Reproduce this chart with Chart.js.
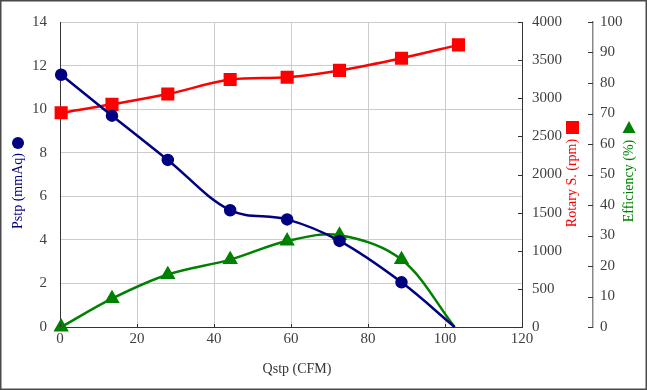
<!DOCTYPE html>
<html>
<head>
<meta charset="utf-8">
<script src="https://cdn.jsdelivr.net/npm/chart.js@4"></script>
<style>
  html, body { margin: 0; padding: 0; background: #fff; }
  canvas { display: block; }
</style>
</head>
<body>
<canvas id="c" width="647" height="390"></canvas>
<script>
// values
const qstp = [0.3, 13.5, 28, 44.2, 59, 72.6, 88.7, 102.5];
const pstp = [11.58, 9.7, 7.67, 5.36, 4.94, 3.95, 2.05, 0];
const rpmQ = [0.3, 13.5, 28, 44.2, 59, 72.6, 88.7, 103.5];
const rpm = [2810, 2920, 3055, 3245, 3275, 3365, 3525, 3700];
const eff = [0, 9.3, 17.2, 22.1, 28.2, 30.1, 22.1, 0];

const xTicks = [0, 20, 40, 60, 80, 100, 120];
const pTicks = [0, 2, 4, 6, 8, 10, 12, 14];
const rpmTicks = [0, 500, 1000, 1500, 2000, 2500, 3000, 3500, 4000];
const effTicks = [0, 10, 20, 30, 40, 50, 60, 70, 80, 90, 100];

const NAVY = '#000080', RED = '#ff0000', GREEN = '#008000';
const TXT = '#404040';
const serif = '"Liberation Serif", "Times New Roman", serif';

const pts = (xs, ys) => xs.map((x, i) => ({ x, y: ys[i] }));
const lastHidden = (n, r) => Array.from({ length: n }, (_, i) => i === n - 1 ? 0 : r);
const plain = v => String(v);

function fixTicks(list) {
  return s => { s.ticks = list.map(v => ({ value: v })); };
}

const decor = {
  id: 'decor',
  afterDraw(chart) {
    const ctx = chart.ctx;
    const { x, y, yR, yE } = chart.scales;
    ctx.save();

    // small inner tick marks
    ctx.strokeStyle = '#333';
    ctx.lineWidth = 1;
    ctx.beginPath();
    xTicks.forEach(v => {
      const px = Math.round(x.getPixelForValue(v)) + 0.5;
      ctx.moveTo(px, y.bottom); ctx.lineTo(px, y.bottom - 3);
    });
    rpmTicks.forEach(v => {
      const py = Math.round(yR.getPixelForValue(v)) + 0.5;
      ctx.moveTo(yR.left, py); ctx.lineTo(yR.left - 4, py);
    });
    effTicks.forEach(v => {
      const py = Math.round(yE.getPixelForValue(v)) + 0.5;
      ctx.moveTo(yE.left, py); ctx.lineTo(yE.left - 5, py);
    });
    ctx.stroke();

    // axis titles
    ctx.font = '14px ' + serif;
    ctx.textBaseline = 'middle';
    ctx.textAlign = 'center';
    ctx.fillStyle = '#333';
    ctx.fillText('Qstp (CFM)', 297, 369);

    const vTitle = (text, cx, cy, color) => {
      ctx.save();
      ctx.translate(cx, cy);
      ctx.rotate(-Math.PI / 2);
      ctx.fillStyle = color;
      ctx.fillText(text, 0, 0);
      ctx.restore();
    };
    vTitle('Pstp (mmAq)', 18, 191, NAVY);
    vTitle('Rotary S. (rpm)', 572, 183, RED);
    vTitle('Efficiency (%)', 629, 181, GREEN);

    // legend glyphs at the top of each title
    ctx.fillStyle = NAVY;
    ctx.beginPath(); ctx.arc(18, 143, 6, 0, Math.PI * 2); ctx.fill();
    ctx.fillStyle = RED;
    ctx.fillRect(566, 121, 13, 13);
    ctx.fillStyle = GREEN;
    ctx.beginPath();
    ctx.moveTo(629, 121); ctx.lineTo(635.5, 133); ctx.lineTo(622.5, 133);
    ctx.closePath(); ctx.fill();

    // outer frame
    ctx.strokeStyle = '#4a4a4a';
    ctx.lineWidth = 1.5;
    ctx.strokeRect(0.75, 0.75, chart.width - 1.5, chart.height - 1.5);
    ctx.restore();
  }
};

new Chart(document.getElementById('c'), {
  type: 'line',
  data: {
    datasets: [
      {
        label: 'Pstp',
        data: pts(qstp, pstp),
        yAxisID: 'y',
        borderColor: NAVY,
        backgroundColor: NAVY,
        borderWidth: 2.5,
        pointStyle: 'circle',
        pointRadius: lastHidden(qstp.length, 5),
        tension: 0.35,
        clip: false
      },
      {
        label: 'Rotary S.',
        data: pts(rpmQ, rpm),
        yAxisID: 'yR',
        borderColor: RED,
        backgroundColor: RED,
        borderWidth: 2.5,
        pointStyle: 'rect',
        pointRadius: 7.5,
        tension: 0.35,
        clip: false
      },
      {
        label: 'Efficiency',
        data: pts(qstp, eff),
        yAxisID: 'yE',
        borderColor: GREEN,
        backgroundColor: GREEN,
        borderWidth: 2.5,
        pointStyle: 'triangle',
        pointRadius: lastHidden(qstp.length, 6.4),
        tension: 0.35,
        clip: false
      }
    ]
  },
  options: {
    responsive: false,
    animation: false,
    layout: { padding: { top: 19, left: 0, right: 0, bottom: 0 } },
    plugins: { legend: { display: false }, tooltip: { enabled: false } },
    elements: { point: { borderWidth: 0 } },
    scales: {
      x: {
        type: 'linear',
        min: 0, max: 120,
        afterBuildTicks: fixTicks(xTicks),
        afterFit: s => { s.height = 63; },
        grid: { color: '#cccccc', lineWidth: 1, drawTicks: false },
        border: { color: '#333', width: 1 },
        ticks: { padding: 3, color: TXT, font: { family: serif, size: 15 }, callback: plain }
      },
      y: {
        position: 'left',
        min: 0, max: 14,
        afterBuildTicks: fixTicks(pTicks),
        afterFit: s => { s.width = 60; },
        grid: { color: '#cccccc', lineWidth: 1, drawTicks: false },
        border: { color: '#333', width: 1 },
        ticks: { padding: 13, color: TXT, font: { family: serif, size: 15 }, callback: plain }
      },
      yR: {
        position: 'right',
        weight: 1,
        min: 0, max: 4000,
        afterBuildTicks: fixTicks(rpmTicks),
        afterFit: s => { s.width = 71; },
        grid: { drawOnChartArea: false, drawTicks: false },
        border: { color: '#333', width: 1 },
        ticks: { padding: 10, color: TXT, font: { family: serif, size: 15 }, callback: plain }
      },
      yE: {
        position: 'right',
        weight: 2,
        min: 0, max: 100,
        afterBuildTicks: fixTicks(effTicks),
        afterFit: s => { s.width = 54; },
        grid: { drawOnChartArea: false, drawTicks: false },
        border: { color: '#888', width: 1.5 },
        ticks: { padding: 7, color: TXT, font: { family: serif, size: 15 }, callback: plain }
      }
    }
  },
  plugins: [decor]
});
</script>
</body>
</html>
